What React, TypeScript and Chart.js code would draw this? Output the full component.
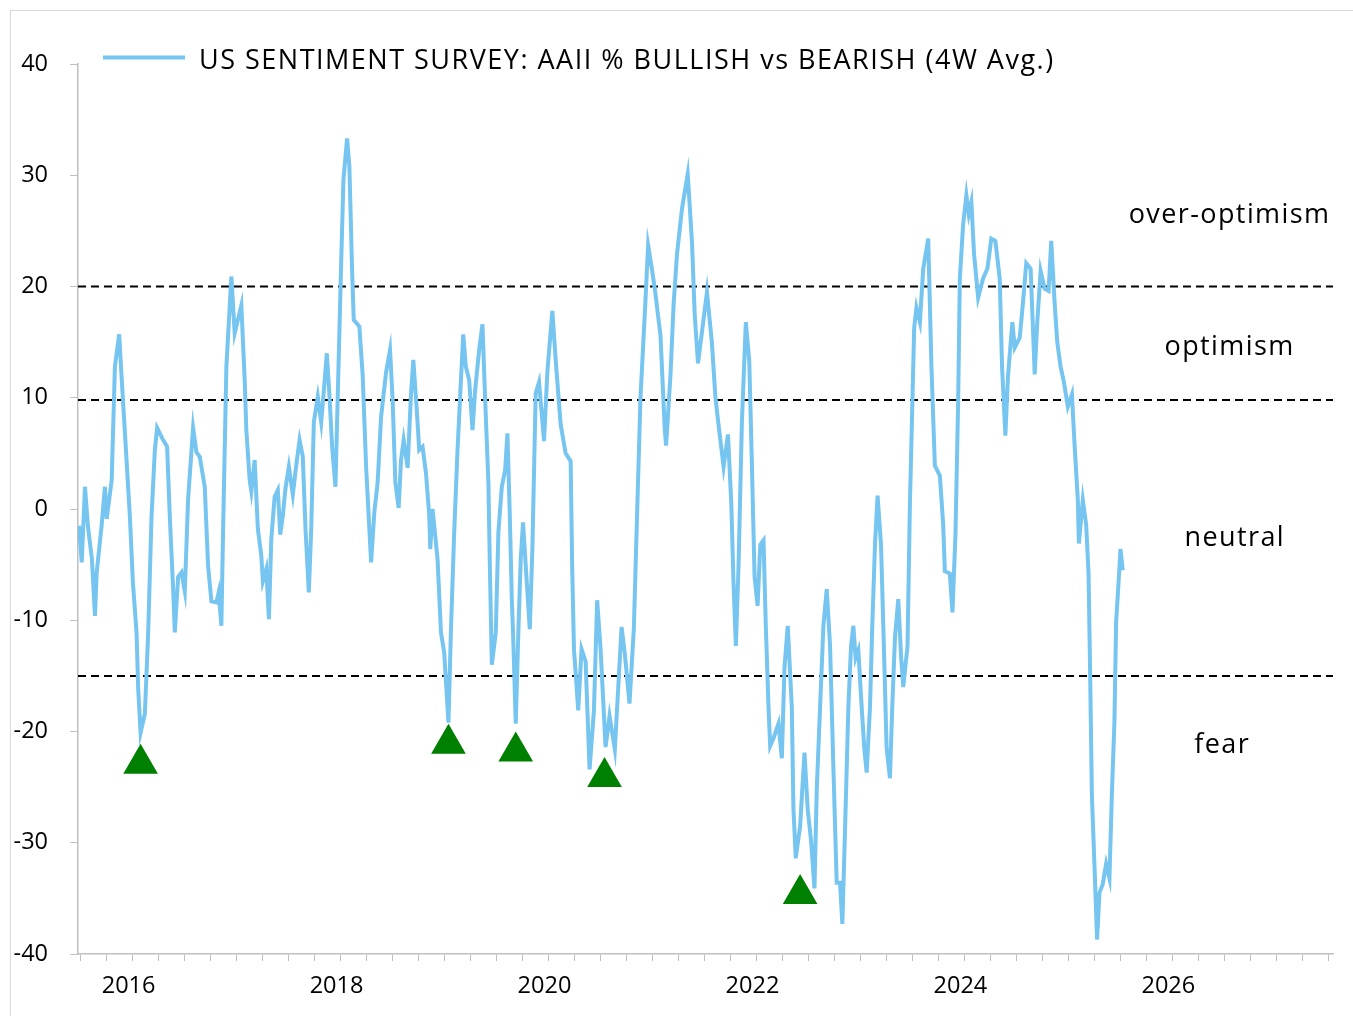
import React, { useEffect, useRef } from "react";
import { Chart, registerables } from "chart.js";

Chart.register(...registerables);

// ---- data ----
const seriesLabel = "US SENTIMENT SURVEY: AAII % BULLISH vs BEARISH (4W Avg.)";

const dates: number[] = [
  2015.485, 2015.511, 2015.542, 2015.571, 2015.609, 2015.638, 2015.655, 2015.702, 2015.734, 2015.751,
  2015.799, 2015.830, 2015.871, 2015.894, 2015.926, 2015.974, 2016.003, 2016.038, 2016.054, 2016.077,
  2016.118, 2016.150, 2016.182, 2016.214, 2016.236, 2016.294, 2016.332, 2016.358, 2016.390, 2016.406,
  2016.438, 2016.470, 2016.502, 2016.534, 2016.582, 2016.614, 2016.646, 2016.694, 2016.726, 2016.758,
  2016.806, 2016.828, 2016.854, 2016.870, 2016.902, 2016.950, 2016.982, 2017.046, 2017.078, 2017.094,
  2017.126, 2017.142, 2017.174, 2017.205, 2017.238, 2017.253, 2017.286, 2017.311, 2017.334, 2017.366,
  2017.397, 2017.420, 2017.445, 2017.471, 2017.503, 2017.541, 2017.580, 2017.606, 2017.637, 2017.663,
  2017.695, 2017.718, 2017.743, 2017.781, 2017.814, 2017.846, 2017.868, 2017.894, 2017.919, 2017.951,
  2017.973, 2018.006, 2018.028, 2018.063, 2018.085, 2018.111, 2018.127, 2018.181, 2018.213, 2018.246,
  2018.294, 2018.325, 2018.357, 2018.390, 2018.438, 2018.476, 2018.501, 2018.527, 2018.559, 2018.582,
  2018.607, 2018.645, 2018.678, 2018.700, 2018.731, 2018.757, 2018.789, 2018.822, 2018.853, 2018.863,
  2018.885, 2018.933, 2018.966, 2018.997, 2019.038, 2019.061, 2019.093, 2019.125, 2019.157, 2019.180,
  2019.205, 2019.237, 2019.269, 2019.295, 2019.333, 2019.365, 2019.391, 2019.422, 2019.436, 2019.455,
  2019.493, 2019.518, 2019.551, 2019.583, 2019.605, 2019.628, 2019.647, 2019.659, 2019.685, 2019.710,
  2019.733, 2019.755, 2019.781, 2019.820, 2019.845, 2019.877, 2019.909, 2019.957, 2019.989, 2020.037,
  2020.069, 2020.117, 2020.165, 2020.213, 2020.228, 2020.245, 2020.286, 2020.318, 2020.357, 2020.395,
  2020.437, 2020.468, 2020.501, 2020.549, 2020.587, 2020.638, 2020.703, 2020.734, 2020.779, 2020.821,
  2020.852, 2020.885, 2020.926, 2020.958, 2020.996, 2021.029, 2021.077, 2021.118, 2021.131, 2021.173,
  2021.204, 2021.236, 2021.284, 2021.339, 2021.380, 2021.406, 2021.438, 2021.492, 2021.524, 2021.572,
  2021.605, 2021.636, 2021.684, 2021.726, 2021.758, 2021.780, 2021.802, 2021.828, 2021.860, 2021.898,
  2021.931, 2021.956, 2021.982, 2022.011, 2022.037, 2022.068, 2022.090, 2022.116, 2022.132, 2022.164,
  2022.212, 2022.244, 2022.270, 2022.301, 2022.340, 2022.356, 2022.378, 2022.420, 2022.462, 2022.493,
  2022.526, 2022.558, 2022.580, 2022.612, 2022.644, 2022.676, 2022.708, 2022.740, 2022.772, 2022.804,
  2022.826, 2022.852, 2022.884, 2022.910, 2022.932, 2022.954, 2022.980, 2023.012, 2023.037, 2023.060,
  2023.092, 2023.114, 2023.140, 2023.165, 2023.198, 2023.220, 2023.252, 2023.284, 2023.306, 2023.332,
  2023.364, 2023.390, 2023.412, 2023.453, 2023.476, 2023.517, 2023.539, 2023.572, 2023.604, 2023.652,
  2023.683, 2023.716, 2023.764, 2023.796, 2023.812, 2023.860, 2023.885, 2023.914, 2023.940, 2023.956,
  2023.988, 2024.019, 2024.042, 2024.067, 2024.093, 2024.132, 2024.179, 2024.221, 2024.259, 2024.298,
  2024.340, 2024.362, 2024.394, 2024.419, 2024.461, 2024.484, 2024.532, 2024.563, 2024.595, 2024.637,
  2024.659, 2024.676, 2024.701, 2024.733, 2024.772, 2024.810, 2024.835, 2024.868, 2024.893, 2024.925,
  2024.957, 2024.995, 2025.034, 2025.060, 2025.091, 2025.101, 2025.139, 2025.171, 2025.194, 2025.209,
  2025.226, 2025.252, 2025.276, 2025.299, 2025.331, 2025.363, 2025.395, 2025.418, 2025.443, 2025.459,
  2025.482, 2025.501, 2025.523,
];

const sentiment: number[] = [
  -1.5, -4.8, 2.0, -1.6, -4.5, -9.6, -5.7, -1.5, 2.0, -0.9,
  2.6, 12.8, 15.7, 11.9, 6.9, -0.7, -6.6, -11.1, -16.2, -20.1,
  -18.4, -11.1, -0.7, 5.3, 7.3, 6.2, 5.6, -0.7, -7.2, -11.1,
  -6.1, -5.7, -7.4, 0.9, 7.3, 5.1, 4.7, 2.0, -5.1, -8.3,
  -8.4, -7.5, -10.5, -2.1, 12.8, 20.9, 15.8, 18.3, 11.6, 7.1,
  2.6, 1.6, 4.4, -1.8, -4.2, -6.5, -5.4, -9.9, -2.7, 1.1,
  1.7, -2.3, -0.6, 1.9, 3.8, 1.3, 4.4, 6.2, 4.7, -1.8,
  -7.5, -1.8, 7.8, 10.1, 7.8, 11.4, 14.0, 10.1, 5.6, 2.0,
  10.1, 22.1, 29.6, 33.3, 30.8, 21.5, 17.0, 16.4, 12.0, 3.8,
  -4.8, -0.3, 2.4, 8.3, 12.3, 14.3, 9.8, 2.4, 0.1, 4.4,
  6.2, 3.7, 10.4, 13.4, 9.2, 5.3, 5.6, 3.2, -0.6, -3.6,
  0.0, -4.5, -11.1, -12.9, -19.2, -11.1, -2.1, 5.3, 11.4, 15.7,
  12.8, 11.6, 7.1, 10.7, 14.3, 16.6, 9.8, 2.4, -5.1, -14.0,
  -11.1, -2.1, 2.0, 3.5, 6.8, -0.6, -8.1, -11.1, -19.3, -11.1,
  -4.5, -1.2, -5.1, -10.8, -3.6, 10.4, 11.4, 6.1, 12.3, 17.8,
  13.4, 7.6, 5.0, 4.3, -5.3, -12.6, -18.1, -12.6, -13.7, -23.4,
  -18.1, -8.2, -12.6, -21.4, -18.6, -21.6, -10.6, -13.0, -17.5, -10.7,
  -0.5, 10.1, 17.5, 23.7, 21.5, 19.3, 15.6, 7.2, 5.7, 12.0,
  18.5, 22.9, 27.0, 30.1, 24.0, 17.5, 13.1, 17.1, 19.5, 14.9,
  10.1, 7.5, 3.8, 6.7, 0.5, -6.8, -12.3, -5.0, 7.8, 16.8,
  13.3, 4.1, -6.1, -8.7, -3.2, -2.8, -10.5, -17.8, -21.3, -20.6,
  -19.3, -22.4, -14.2, -10.5, -17.8, -27.0, -31.4, -28.5, -21.9, -27.0,
  -29.9, -34.1, -25.2, -17.8, -10.5, -7.2, -12.3, -23.3, -33.6, -33.6,
  -37.3, -28.8, -17.8, -12.3, -10.5, -13.4, -12.7, -17.8, -21.5, -23.7,
  -17.8, -10.5, -3.2, 1.2, -3.2, -10.5, -21.5, -24.2, -17.8, -11.6,
  -8.1, -13.1, -16.0, -12.3, 0.5, 16.3, 18.1, 16.8, 21.6, 24.3,
  12.8, 3.9, 3.0, -1.4, -5.6, -5.8, -9.3, -2.3, 9.7, 20.7,
  25.6, 28.2, 26.5, 27.6, 22.9, 19.0, 20.7, 21.6, 24.3, 24.1,
  20.7, 12.8, 6.6, 11.9, 16.8, 14.5, 15.4, 18.5, 22.1, 21.6,
  16.3, 12.1, 16.8, 21.4, 19.8, 19.6, 24.1, 18.5, 15.0, 12.8,
  11.4, 9.2, 10.3, 5.7, 0.8, -3.1, 0.8, -1.4, -5.8, -14.6,
  -25.7, -32.3, -38.7, -34.5, -33.7, -31.9, -33.2, -25.7, -19.1, -10.2,
  -6.7, -3.6, -5.5,
];

// buy-signal markers (green triangles)
const signalDates: number[] = [2016.077, 2019.038, 2019.685, 2020.539, 2022.42];
const signalValues: number[] = [-22.9, -21.1, -21.8, -24.1, -34.6];

// threshold levels (dashed)
const thresholds: number[] = [20, 9.8, -15];

// zone labels
const zoneLabels: string[] = ["over-optimism", "optimism", "neutral", "fear"];
const zoneDates: number[] = [2026.55, 2026.55, 2026.6, 2026.48];
const zoneValues: number[] = [26.4, 14.5, -2.6, -21.2];

// axis
const xMin = 2015.475;
const xMax = 2027.545;
const xTickStep = 0.25;
const xLabelEvery = 2;
const yMin = -40;
const yMax = 40;
const yStep = 10;

const LINE_COLOR = "#75C5F0";
const AXIS_COLOR = "#BFBFBF";
const FONT = "'Open Sans', Lato, sans-serif";

export default function App() {
  const canvasRef = useRef<HTMLCanvasElement | null>(null);

  useEffect(() => {
    if (!canvasRef.current) return;

    const mainData = dates.map((d, i) => ({ x: d, y: sentiment[i] }));
    const signalData = signalDates.map((d, i) => ({ x: d, y: signalValues[i] }));

    const thresholdSets = thresholds.map((v) => ({
      type: "line" as const,
      label: "level " + v,
      data: [
        { x: xMin, y: v },
        { x: xMax, y: v },
      ],
      borderColor: "#000000",
      borderWidth: 2,
      borderDash: [8, 5],
      pointRadius: 0,
      fill: false,
      order: 3,
    }));

    const overlayPlugin = {
      id: "overlay",
      afterDatasetsDraw(chart: any) {
        const { ctx, chartArea, scales } = chart;
        const xs = scales.x;
        const ys = scales.y;
        ctx.save();
        ctx.letterSpacing = "1.4px";
        // zone labels
        ctx.fillStyle = "#000000";
        ctx.font = `27px ${FONT}`;
        ctx.textAlign = "center";
        ctx.textBaseline = "middle";
        zoneLabels.forEach((t, i) => {
          ctx.fillText(t, xs.getPixelForValue(zoneDates[i]), ys.getPixelForValue(zoneValues[i]));
        });
        // legend
        const ds = chart.data.datasets[0];
        const lx = chartArea.left + 25;
        const ly = chartArea.top - 6.5;
        ctx.strokeStyle = ds.borderColor;
        ctx.lineWidth = 4;
        ctx.beginPath();
        ctx.moveTo(lx, ly);
        ctx.lineTo(lx + 82, ly);
        ctx.stroke();
        ctx.textAlign = "left";
        ctx.font = `27px ${FONT}`;
        ctx.letterSpacing = "1.5px";
        ctx.fillText(ds.label, lx + 96, ly + 4);
        ctx.restore();
      },
    };

    const chart = new Chart(canvasRef.current, {
      type: "line",
      data: {
        datasets: [
          {
            label: seriesLabel,
            data: mainData,
            borderColor: LINE_COLOR,
            backgroundColor: LINE_COLOR,
            borderWidth: 4,
            pointRadius: 0,
            tension: 0,
            fill: false,
            order: 1,
          },
          {
            type: "scatter" as const,
            label: "signals",
            data: signalData,
            pointStyle: "triangle",
            pointRadius: 20,
            pointHoverRadius: 20,
            backgroundColor: "#008000",
            borderColor: "#008000",
            borderWidth: 0,
            showLine: false,
            order: 2,
          },
          ...thresholdSets,
        ] as any,
      },
      options: {
        animation: false,
        responsive: true,
        maintainAspectRatio: false,
        layout: { padding: { top: 64, right: 18, left: 0, bottom: 0 } },
        plugins: {
          legend: { display: false },
          tooltip: { enabled: false },
        },
        scales: {
          x: {
            type: "linear",
            min: xMin,
            max: xMax,
            afterBuildTicks: (scale: any) => {
              const ticks = [];
              for (let v = Math.ceil(xMin / xTickStep) * xTickStep; v <= xMax + 1e-9; v += xTickStep) {
                ticks.push({ value: Math.round(v * 100) / 100 });
              }
              scale.ticks = ticks;
            },
            afterFit: (scale: any) => {
              scale.height = 62;
            },
            ticks: {
              autoSkip: false,
              maxRotation: 0,
              color: "#000000",
              font: { family: FONT, size: 23.5 },
              padding: 11,
              labelOffset: -4,
              callback: (v: any) => {
                const n = Number(v);
                return Number.isInteger(n) && n % xLabelEvery === 0 ? String(n) : "";
              },
            },
            grid: {
              drawOnChartArea: false,
              drawTicks: true,
              tickLength: 7,
              tickColor: AXIS_COLOR,
            },
            border: { color: AXIS_COLOR, width: 1.5 },
          },
          y: {
            min: yMin,
            max: yMax,
            afterFit: (scale: any) => {
              scale.width = 78;
            },
            ticks: {
              stepSize: yStep,
              color: "#000000",
              font: { family: FONT, size: 23.5 },
              padding: 22,
            },
            grid: {
              drawOnChartArea: false,
              drawTicks: true,
              tickLength: 8,
              tickColor: AXIS_COLOR,
            },
            border: { color: AXIS_COLOR, width: 1.5 },
          },
        },
      },
      plugins: [overlayPlugin],
    });

    return () => chart.destroy();
  }, []);

  return (
    <div
      style={{
        position: "fixed",
        left: 0,
        top: 0,
        width: 1353,
        height: 1016,
        background: "#ffffff",
        overflow: "hidden",
      }}
    >
      <div
        style={{
          position: "absolute",
          left: 10,
          top: 10,
          width: 1400,
          height: 1100,
          borderLeft: "1px solid #D9D9D9",
          borderTop: "1px solid #D9D9D9",
        }}
      />
      <div style={{ position: "absolute", left: 0, top: 0, width: 1353, height: 1016 }}>
        <canvas ref={canvasRef} />
      </div>
    </div>
  );
}
